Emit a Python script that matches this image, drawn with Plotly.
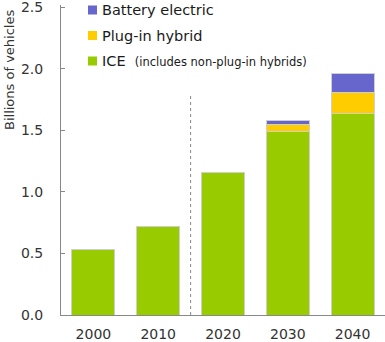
import plotly.graph_objects as go

years = ["2000", "2010", "2020", "2030", "2040"]
ice = [0.53, 0.72, 1.155, 1.49, 1.64]
phev = [None, None, None, 0.06, 0.17]
bev = [None, None, None, 0.035, 0.155]

series_names = ["ICE", "Plug-in hybrid", "Battery electric"]
series_colors = ["#99CC00", "#FFCC00", "#6666CC"]
legend_note = "(includes non-plug-in hybrids)"

y_ticks = [0, 0.5, 1.0, 1.5, 2.0, 2.5]
y_tick_labels = ["0.0", "0.5", "1.0", "1.5", "2.0", "2.5"]

FONT = "DejaVu Sans"
W, H = 385, 342
ML, MR, MT, MB = 61, 0, 5, 27
PW, PH = W - ML - MR, H - MT - MB


def px(x):
    return (x - ML) / PW


def py(y):
    return (H - MB - y) / PH


fig = go.Figure()
for name, vals, col in zip(series_names, [ice, phev, bev], series_colors):
    fig.add_trace(go.Bar(
        x=years, y=vals, name=name,
        marker=dict(color=col, line=dict(color="#CFCFCF", width=1)),
        showlegend=False,
    ))

# dashed separator between history and projections
fig.add_shape(type="line", xref="x", yref="y", x0=1.5, x1=1.5, y0=0, y1=1.78,
              line=dict(color="#888888", width=1, dash="3px,3px"))

# manual legend
rows_y = [10, 35.5, 61]
legend_items = list(zip(series_names[::-1], series_colors[::-1]))
for (name, col), yc in zip(legend_items, rows_y):
    fig.add_shape(type="rect", xref="paper", yref="paper",
                  x0=px(88), x1=px(97), y0=py(yc + 4.5), y1=py(yc - 4.5),
                  fillcolor=col, line=dict(width=0))
    text = name
    if name == "ICE":
        text = name + "&nbsp;&nbsp;<span style='font-size:11.5px'>" + legend_note + "</span>"
    fig.add_annotation(xref="paper", yref="paper", x=px(101), y=py(yc),
                       xanchor="left", yanchor="middle", text=text, showarrow=False,
                       borderpad=0, font=dict(family=FONT, size=14.5, color="#1a1a1a"))

# y axis title
fig.add_annotation(xref="paper", yref="paper", x=px(9), y=py(70), text="Billions of vehicles",
                   textangle=-90, showarrow=False, xanchor="center", yanchor="middle",
                   borderpad=0, font=dict(family=FONT, size=13, color="#333333"))

fig.update_layout(
    width=W, height=H,
    margin=dict(l=ML, r=MR, t=MT, b=MB, autoexpand=False),
    barmode="stack", bargap=0.336,
    plot_bgcolor="white", paper_bgcolor="white",
    font=dict(family=FONT, size=14, color="#333333"),
    xaxis=dict(type="category", range=[-0.5, 4.5], showline=True, linecolor="#888888",
               linewidth=1, ticks="", showgrid=False, ticklabelstandoff=6, automargin=False,
               tickfont=dict(family=FONT, size=14, color="#333333")),
    yaxis=dict(range=[0, 2.52], tickvals=y_ticks, ticktext=y_tick_labels, showline=True,
               linecolor="#888888", linewidth=1, ticks="inside", ticklen=4,
               tickcolor="#888888", showgrid=False, zeroline=False, ticklabelstandoff=14,
               ticklabeloverflow="allow", automargin=False,
               tickfont=dict(family=FONT, size=14, color="#333333")),
)

fig.write_html("out.html")
